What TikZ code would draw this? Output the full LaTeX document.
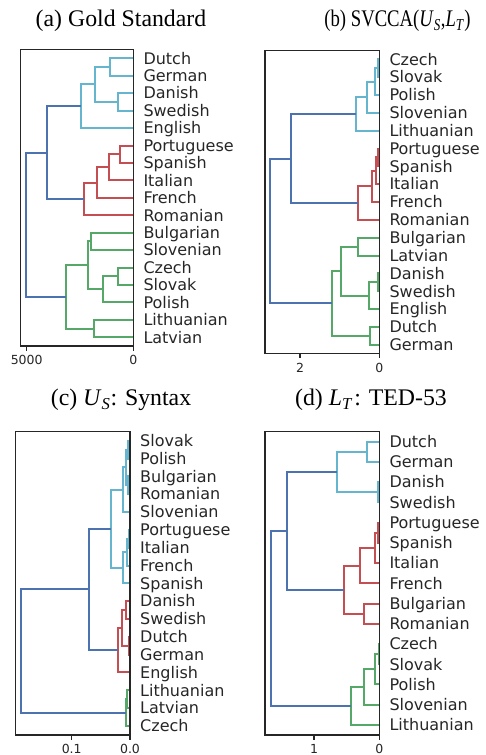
\documentclass[tikz,border=0pt]{standalone}
\usepackage{fontspec}
\setmainfont{Liberation Serif}
\newfontfamily\dejavu{DejaVu Sans}
\usepackage{graphicx}
\usepackage{tikz}
\usetikzlibrary{calc}

\definecolor{sbblue}{HTML}{4C72B0}
\definecolor{sbcyan}{HTML}{64B5CD}
\definecolor{sbred}{HTML}{C44E52}
\definecolor{sbgreen}{HTML}{55A868}

\tikzset{
	lblue/.style={line width=2pt, color=sbblue},
	lcyan/.style={line width=2pt, color=sbcyan},
	lred/.style={line width=2pt, color=sbred},
	lgreen/.style={line width=2pt, color=sbgreen},
	frame/.style={line width=1.2pt, color=black!85},
	leaf/.style={anchor=base west, inner sep=0pt, xshift=10pt, yshift=-5.8pt, text=black!85, font=\dejavu\fontsize{16}{19}\selectfont},
	ticklabel/.style={anchor=base, inner sep=0pt, yshift=-14pt, text=black!85, font=\dejavu\fontsize{12.5}{15}\selectfont},
	subtitle/.style={anchor=base, inner sep=0pt, font=\fontsize{23.8}{28}\selectfont}
}

% merge of two clusters: [style](name)(height,position)(left child)(right child)
\def\merge[#1](#2)(#3,#4)(#5)(#6){\coordinate (#2) at (-#3,#4); \draw[#1] (#5) -- (#5 -| #2) -- (#6 -| #2) -- (#6);}

\begin{document}
\begin{tikzpicture}
	%%%%% START %%%%%
	\useasboundingbox (0pt,0pt) rectangle (485pt,-755pt);
	
	\node[subtitle] (ta) at (121pt,-26.5pt) {(a) Gold Standard};
	\node[subtitle] (tb) at (397.5pt,-26.5pt) {\scalebox{0.785}[1]{(b) SVCCA(\textit{U}\textsubscript{\textit{S}},\textit{L}\textsubscript{\textit{T}})}};
	\node[subtitle] (tc) at (121pt,-405.5pt) {(c) \textit{U}\textsubscript{\textit{S}}: Syntax};
	\node[subtitle] (td) at (371pt,-405.5pt) {(d) \textit{L}\textsubscript{\textit{T}}\kern1.5pt: TED-53};
	
	% (a)
	\begin{scope}[shift={(133.3pt,-58.3pt)}, x=1pt, y=-17.44pt]
		\foreach \lang [count=\i from 0] in {Dutch,German,Danish,Swedish,English,Portuguese,Spanish,Italian,French,Romanian,Bulgarian,Slovenian,Czech,Slovak,Polish,Lithuanian,Latvian}{
			\coordinate (a\i) at (0,\i);
			\node[leaf] (la\i) at (a\i) {\lang};
		}
		\merge[lcyan](am1)(23.3,0.5)(a0)(a1)
		\merge[lcyan](am2)(15,2.5)(a2)(a3)
		\merge[lcyan](am3)(38.3,1.5)(am1)(am2)
		\merge[lcyan](am4)(52.7,2.75)(am3)(a4)
		\merge[lred](am5)(13.3,5.5)(a5)(a6)
		\merge[lred](am6)(24,6.25)(am5)(a7)
		\merge[lred](am7)(36,7.125)(am6)(a8)
		\merge[lred](am8)(49,8.0625)(am7)(a9)
		\merge[lblue](am9)(86.7,5.40625)(am4)(am8)
		\merge[lgreen](am10)(42.7,10.5)(a10)(a11)
		\merge[lgreen](am11)(15,12.5)(a12)(a13)
		\merge[lgreen](am12)(30,13.25)(am11)(a14)
		\merge[lgreen](am13)(45.7,11.875)(am10)(am12)
		\merge[lgreen](am14)(39,15.5)(a15)(a16)
		\merge[lgreen](am15)(67.7,13.6875)(am13)(am14)
		\merge[lblue](am16)(107.3,9.546875)(am9)(am15)
		
		\draw[frame] (-112.6,-0.5) rectangle (0,16.5);
		\foreach \x/\t [count=\k] in {-106.6/5000, 0/0}
			\draw[frame] (\x,16.5) -- ++(0pt,-4.7pt) node[ticklabel] (ka\k) {\t};
	\end{scope}
	
	% (b)
	\begin{scope}[shift={(379.3pt,-59.3pt)}, x=1pt, y=-17.84pt]
		\foreach \lang [count=\i from 0] in {Czech,Slovak,Polish,Slovenian,Lithuanian,Portuguese,Spanish,Italian,French,Romanian,Bulgarian,Latvian,Danish,Swedish,English,Dutch,German}{
			\coordinate (b\i) at (0,\i);
			\node[leaf] (lb\i) at (b\i) {\lang};
		}
		\merge[lcyan](bm1)(1,0.5)(b0)(b1)
		\merge[lcyan](bm2)(4.7,1.25)(bm1)(b2)
		\merge[lcyan](bm3)(12.7,2.125)(bm2)(b3)
		\merge[lcyan](bm4)(23.3,3.0625)(bm3)(b4)
		\merge[lred](bm5)(1,5.5)(b5)(b6)
		\merge[lred](bm6)(3.3,6.25)(bm5)(b7)
		\merge[lred](bm7)(7.7,7.125)(bm6)(b8)
		\merge[lred](bm8)(21,8.0625)(bm7)(b9)
		\merge[lblue](bm9)(88.3,5.5625)(bm4)(bm8)
		\merge[lgreen](bm10)(21,10.5)(b10)(b11)
		\merge[lgreen](bm11)(1,12.5)(b12)(b13)
		\merge[lgreen](bm12)(10.3,13.25)(bm11)(b14)
		\merge[lgreen](bm13)(38.3,11.875)(bm10)(bm12)
		\merge[lgreen](bm14)(9.3,15.5)(b15)(b16)
		\merge[lgreen](bm15)(47.7,13.6875)(bm13)(bm14)
		\merge[lblue](bm16)(109.3,9.625)(bm9)(bm15)
		
		\draw[frame] (-114.3,-0.5) rectangle (0,16.5);
		\foreach \x/\t [count=\k] in {-79.3/2, 0/0}
			\draw[frame] (\x,16.5) -- ++(0pt,-4.7pt) node[ticklabel] (kb\k) {\t};
	\end{scope}
	
	% (c)
	\begin{scope}[shift={(130pt,-440.7pt)}, x=1pt, y=-17.83pt]
		\foreach \lang [count=\i from 0] in {Slovak,Polish,Bulgarian,Romanian,Slovenian,Portuguese,Italian,French,Spanish,Danish,Swedish,Dutch,German,English,Lithuanian,Latvian,Czech}{
			\coordinate (c\i) at (0,\i);
			\node[leaf] (lc\i) at (c\i) {\lang};
		}
		\merge[lcyan](cm1)(2.3,0.5)(c0)(c1)
		\merge[lcyan](cm2)(1.7,2.5)(c2)(c3)
		\merge[lcyan](cm3)(4,1.5)(cm1)(cm2)
		\merge[lcyan](cm4)(7.3,2.75)(cm3)(c4)
		\merge[lcyan](cm5)(0.7,5.5)(c5)(c6)
		\merge[lcyan](cm6)(3.3,6.25)(cm5)(c7)
		\merge[lcyan](cm7)(6.7,7.125)(cm6)(c8)
		\merge[lcyan](cm8)(19,4.9375)(cm4)(cm7)
		\merge[lred](cm9)(3.7,9.5)(c9)(c10)
		\merge[lred](cm10)(0.7,11.5)(c11)(c12)
		\merge[lred](cm11)(8.3,10.5)(cm9)(cm10)
		\merge[lred](cm12)(11.7,11.75)(cm11)(c13)
		\merge[lblue](cm13)(41,8.34375)(cm8)(cm12)
		\merge[lgreen](cm14)(2.7,14.5)(c14)(c15)
		\merge[lgreen](cm15)(4.3,15.25)(cm14)(c16)
		\merge[lblue](cm16)(109,11.796875)(cm13)(cm15)
		
		\draw[frame] (-114.3,-0.5) rectangle (0,16.5);
		\foreach \x/\t [count=\k] in {-58.3/0.1, 0/0.0}
			\draw[frame] (\x,16.5) -- ++(0pt,-4.7pt) node[ticklabel] (kc\k) {\t};
	\end{scope}
	
	% (d)
	\begin{scope}[shift={(379.3pt,-441.7pt)}, x=1pt, y=-20.23pt]
		\foreach \lang [count=\i from 0] in {Dutch,German,Danish,Swedish,Portuguese,Spanish,Italian,French,Bulgarian,Romanian,Czech,Slovak,Polish,Slovenian,Lithuanian}{
			\coordinate (d\i) at (0,\i);
			\node[leaf] (ld\i) at (d\i) {\lang};
		}
		\merge[lcyan](dm1)(12.7,0.5)(d0)(d1)
		\merge[lcyan](dm2)(1,2.5)(d2)(d3)
		\merge[lcyan](dm3)(42.7,1.5)(dm1)(dm2)
		\merge[lred](dm4)(1,4.5)(d4)(d5)
		\merge[lred](dm5)(4.3,5.25)(dm4)(d6)
		\merge[lred](dm6)(19.3,6.125)(dm5)(d7)
		\merge[lred](dm7)(15.3,8.5)(d8)(d9)
		\merge[lred](dm8)(35,7.3125)(dm6)(dm7)
		\merge[lblue](dm9)(92.7,4.40625)(dm3)(dm8)
		\merge[lgreen](dm10)(0.7,10.5)(d10)(d11)
		\merge[lgreen](dm11)(4.3,11.25)(dm10)(d12)
		\merge[lgreen](dm12)(15.3,12.125)(dm11)(d13)
		\merge[lgreen](dm13)(28.3,13.0625)(dm12)(d14)
		\merge[lblue](dm14)(108.7,8.734375)(dm9)(dm13)
		
		\draw[frame] (-114.3,-0.5) rectangle (0,14.5);
		\foreach \x/\t [count=\k] in {-65.3/1, 0/0}
			\draw[frame] (\x,14.5) -- ++(0pt,-4.7pt) node[ticklabel] (kd\k) {\t};
	\end{scope}
	
	%%%%% END %%%%%
\end{tikzpicture}
\end{document}
